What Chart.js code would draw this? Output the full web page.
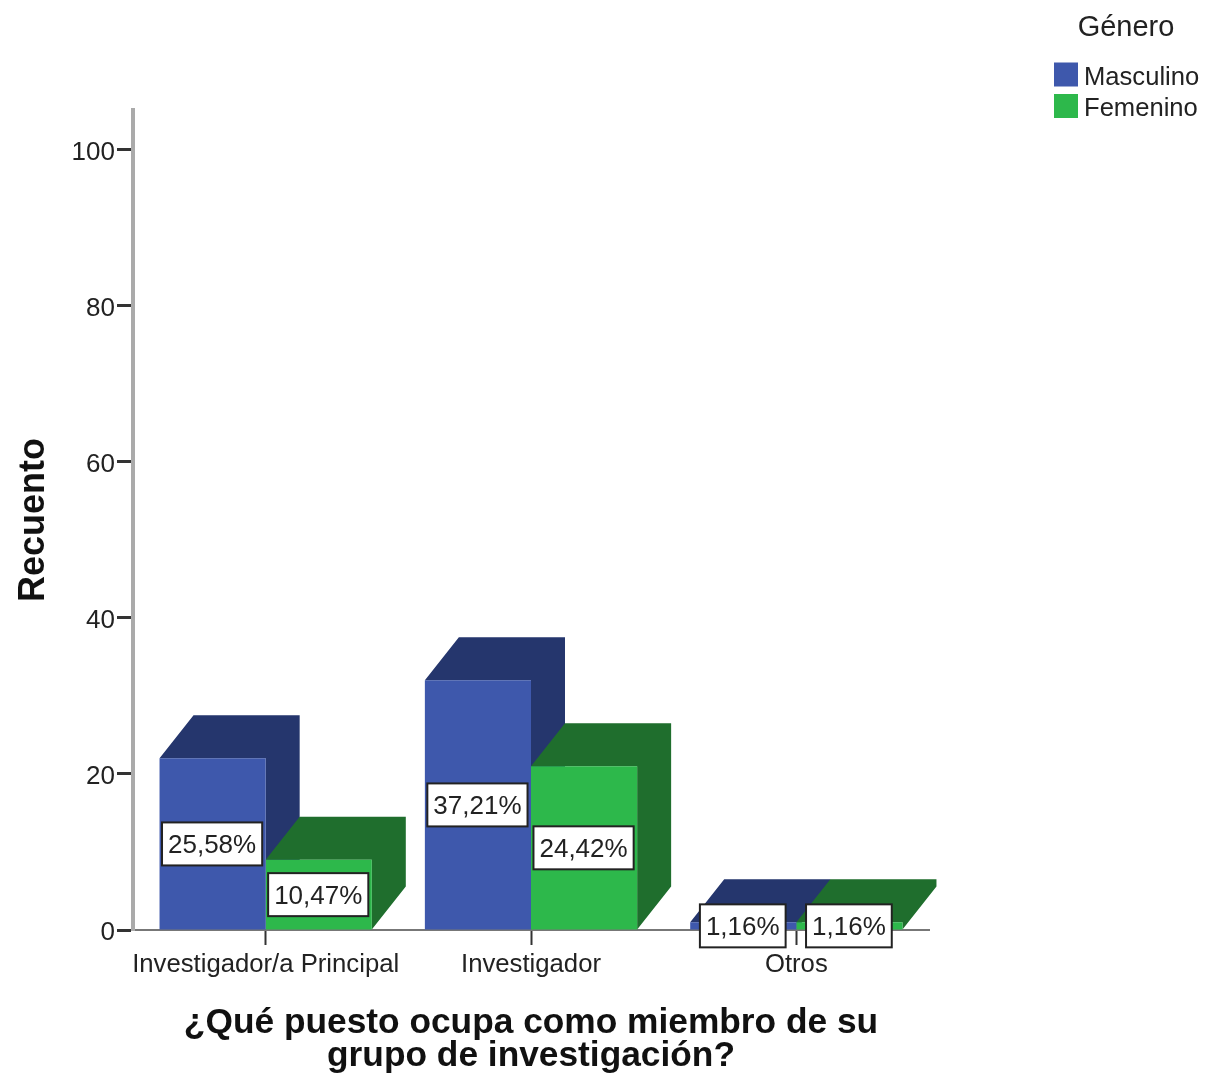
<!DOCTYPE html>
<html>
<head>
<meta charset="utf-8">
<style>
  html, body { margin: 0; padding: 0; background: #fff; }
  canvas { display: block; }
</style>
<script src="https://cdn.jsdelivr.net/npm/chart.js@4/dist/chart.umd.min.js"></script>
</head>
<body>
<canvas id="canvas" width="1205" height="1081"></canvas>
<script>
// data
const categories = ["Investigador/a Principal", "Investigador", "Otros"];
const masculino = [22, 32, 1];
const femenino = [9, 21, 1];
const masculinoLabels = ["25,58%", "37,21%", "1,16%"];
const femeninoLabels = ["10,47%", "24,42%", "1,16%"];

const blue = "#3e58ac";
const darkBlue = "#25366d";
const green = "#2db84b";
const darkGreen = "#1f6e2d";
const fontName = "'Liberation Sans', Arial, sans-serif";
const textColor = "#222";

// fake 3d: top and side of each bar, drawn before the library paints the fronts
const depth3d = {
  id: "depth3d",
  beforeDatasetsDraw(chart) {
    const dx = 34, dy = 43;
    const ctx = chart.ctx;
    chart.data.datasets.forEach((ds, i) => {
      chart.getDatasetMeta(i).data.forEach((bar) => {
        const l = bar.x - bar.width / 2, r = bar.x + bar.width / 2;
        ctx.fillStyle = ds.depthColor;
        ctx.beginPath();
        ctx.moveTo(l, bar.y);
        ctx.lineTo(l + dx, bar.y - dy);
        ctx.lineTo(r + dx, bar.y - dy);
        ctx.lineTo(r + dx, bar.base - dy);
        ctx.lineTo(r, bar.base);
        ctx.lineTo(r, bar.y);
        ctx.closePath();
        ctx.fill();
      });
    });
  },
};

// white percent boxes in the middle of each bar
const percentBoxes = {
  id: "percentBoxes",
  afterDatasetsDraw(chart) {
    const ctx = chart.ctx;
    ctx.save();
    ctx.font = "26px " + fontName;
    ctx.textAlign = "center";
    ctx.textBaseline = "middle";
    chart.data.datasets.forEach((ds, i) => {
      chart.getDatasetMeta(i).data.forEach((bar, j) => {
        const text = ds.percents[j];
        const w = ctx.measureText(text).width + 12;
        const h = 43;
        const cx = bar.x - 0.5;
        const cy = (bar.y + bar.base) / 2;
        ctx.fillStyle = "#fff";
        ctx.strokeStyle = "#222";
        ctx.lineWidth = 2;
        ctx.fillRect(cx - w / 2, cy - h / 2, w, h);
        ctx.strokeRect(cx - w / 2, cy - h / 2, w, h);
        ctx.fillStyle = textColor;
        ctx.fillText(text, cx, cy + 2);
      });
    });
    ctx.restore();
  },
};

// legend sits far from the plot in the original, so it is placed by hand
const cornerLegend = {
  id: "cornerLegend",
  afterDraw(chart) {
    const ctx = chart.ctx;
    ctx.save();
    ctx.fillStyle = textColor;
    ctx.textBaseline = "middle";
    ctx.font = "29px " + fontName;
    ctx.textAlign = "center";
    ctx.fillText("Género", 1126, 28);
    ctx.textAlign = "left";
    ctx.font = "25.6px " + fontName;
    chart.data.datasets.forEach((ds, i) => {
      const y = 74.5 + i * 31.5;
      ctx.fillStyle = ds.backgroundColor;
      ctx.fillRect(1054, y - 12, 24, 24);
      ctx.fillStyle = textColor;
      ctx.fillText(ds.label, 1084, y + 3);
    });
    ctx.restore();
  },
};

new Chart(document.getElementById("canvas").getContext("2d"), {
  type: "bar",
  data: {
    labels: categories,
    datasets: [
      { label: "Masculino", data: masculino, backgroundColor: blue, depthColor: darkBlue, percents: masculinoLabels },
      { label: "Femenino", data: femenino, backgroundColor: green, depthColor: darkGreen, percents: femeninoLabels },
    ],
  },
  options: {
    responsive: false,
    animation: false,
    layout: { padding: { left: 0, top: 110, right: 276, bottom: 0 } },
    plugins: { legend: { display: false }, tooltip: { enabled: false } },
    datasets: { bar: { categoryPercentage: 0.8, barPercentage: 1 } },
    scales: {
      x: {
        afterFit(axis) { axis.height = 151; },
        grid: { offset: false, drawOnChartArea: false, tickLength: 15, tickColor: "#333", tickWidth: 2 },
        border: { color: "#777", width: 2 },
        ticks: { color: textColor, font: { family: fontName, size: 25.7 }, padding: 4, maxRotation: 0, autoSkip: false },
        title: {
          display: true,
          text: ["¿Qué puesto ocupa como miembro de su", "grupo de investigación?"],
          color: "#111",
          font: { family: fontName, size: 35.3, weight: "bold", lineHeight: 0.92 },
          padding: { top: 0, bottom: 9 },
        },
      },
      y: {
        min: 0,
        max: 105.1,
        afterFit(axis) { axis.width = 133; },
        grid: { drawOnChartArea: false, tickLength: 16, tickColor: "#333", tickWidth: 3 },
        border: { color: "#aaa", width: 4 },
        ticks: { stepSize: 20, includeBounds: false, labelOffset: 3, color: textColor, font: { family: fontName, size: 26 }, padding: 2 },
        title: {
          display: true,
          text: "Recuento",
          color: "#111",
          font: { family: fontName, size: 36, weight: "bold" },
          padding: { top: 12, bottom: 0 },
        },
      },
    },
  },
  plugins: [depth3d, percentBoxes, cornerLegend],
});
</script>
</body>
</html>
